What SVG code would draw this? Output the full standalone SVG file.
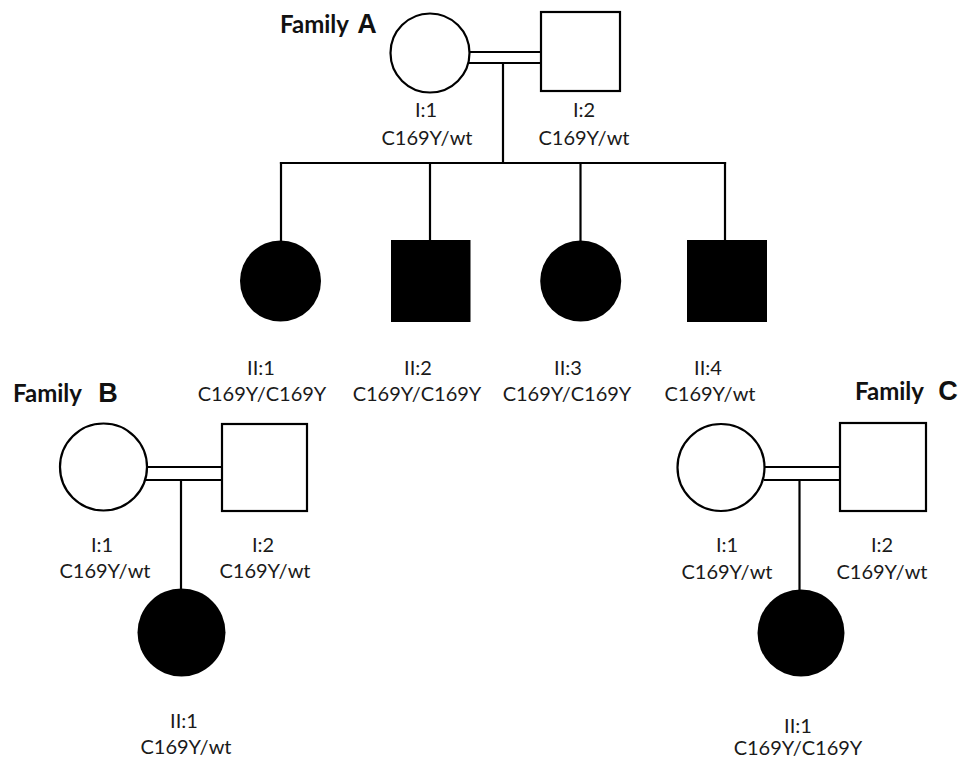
<svg xmlns="http://www.w3.org/2000/svg" width="959" height="758" viewBox="0 0 959 758">
<style>
.ln{stroke:#000;stroke-width:2.2;fill:none}
.open{fill:#fff;stroke:#000;stroke-width:2.2}
.aff{fill:#000;stroke:none}
.lbl{font-family:Lato,"Noto Sans",sans-serif;font-size:20px;fill:#1a1a1a;text-anchor:middle}
.fam{font-family:Lato,"Liberation Sans",sans-serif;font-weight:bold;font-size:24px;fill:#111}
.letter{font-family:"Liberation Sans",Arial,sans-serif;font-weight:bold;font-size:27px;fill:#111}
</style>
<rect width="959" height="758" fill="#fff"/>
<g id="connectors">
<line class="ln" x1="469" y1="52" x2="541" y2="52"/>
<line class="ln" x1="469" y1="63" x2="541" y2="63"/>
<line class="ln" x1="503" y1="63" x2="503" y2="163"/>
<line class="ln" x1="279.9" y1="163" x2="726.1" y2="163"/>
<line class="ln" x1="281" y1="162" x2="281" y2="241"/>
<line class="ln" x1="430" y1="162" x2="430" y2="241"/>
<line class="ln" x1="580.5" y1="162" x2="580.5" y2="241"/>
<line class="ln" x1="725" y1="162" x2="725" y2="241"/>
<line class="ln" x1="146" y1="467" x2="222" y2="467"/>
<line class="ln" x1="146" y1="480" x2="222" y2="480"/>
<line class="ln" x1="181" y1="480" x2="181" y2="589"/>
<line class="ln" x1="764" y1="467" x2="840" y2="467"/>
<line class="ln" x1="764" y1="480" x2="840" y2="480"/>
<line class="ln" x1="799.5" y1="480" x2="799.5" y2="590"/>
</g>
<g id="title-A"><text x="280" y="33" class="fam">Family <tspan class="letter" dx="3">A</tspan></text></g>
<g id="A-I1"><circle class="open" cx="430" cy="53" r="39.5"/><text class="lbl" x="426" y="117">I:1</text><text class="lbl" x="427" y="145">C169Y/wt</text></g>
<g id="A-I2"><rect class="open" x="541" y="12" width="79" height="79"/><text class="lbl" x="584" y="117">I:2</text><text class="lbl" x="584" y="145">C169Y/wt</text></g>
<g id="A-II1"><circle class="aff" cx="280.5" cy="281" r="40.5"/><text class="lbl" x="261" y="375">II:1</text><text class="lbl" x="262" y="401">C169Y/C169Y</text></g>
<g id="A-II2"><rect class="aff" x="391" y="240" width="79.5" height="82"/><text class="lbl" x="418" y="375">II:2</text><text class="lbl" x="417" y="401">C169Y/C169Y</text></g>
<g id="A-II3"><circle class="aff" cx="580.7" cy="281" r="40.5"/><text class="lbl" x="568" y="375">II:3</text><text class="lbl" x="567" y="401">C169Y/C169Y</text></g>
<g id="A-II4"><rect class="aff" x="687" y="240" width="80" height="82"/><text class="lbl" x="708" y="375">II:4</text><text class="lbl" x="710" y="401">C169Y/wt</text></g>
<g id="title-B"><text x="13" y="402" class="fam">Family <tspan class="letter" dx="11">B</tspan></text></g>
<g id="B-I1"><circle class="open" cx="103.5" cy="467" r="43.5"/><text class="lbl" x="102" y="552">I:1</text><text class="lbl" x="105" y="578">C169Y/wt</text></g>
<g id="B-I2"><rect class="open" x="222" y="424" width="85" height="87"/><text class="lbl" x="263" y="552">I:2</text><text class="lbl" x="265" y="578">C169Y/wt</text></g>
<g id="B-II1"><circle class="aff" cx="181.5" cy="632.5" r="44"/><text class="lbl" x="184" y="728">II:1</text><text class="lbl" x="186" y="754">C169Y/wt</text></g>
<g id="title-C"><text x="855" y="400" class="fam">Family <tspan class="letter" dx="9">C</tspan></text></g>
<g id="C-I1"><circle class="open" cx="721" cy="467.5" r="43.5"/><text class="lbl" x="727" y="552">I:1</text><text class="lbl" x="727" y="579">C169Y/wt</text></g>
<g id="C-I2"><rect class="open" x="840" y="423" width="86" height="88"/><text class="lbl" x="882" y="552">I:2</text><text class="lbl" x="882" y="579">C169Y/wt</text></g>
<g id="C-II1"><circle class="aff" cx="801" cy="633" r="43.5"/><text class="lbl" x="798" y="733">II:1</text><text class="lbl" x="798" y="755">C169Y/C169Y</text></g>
</svg>
